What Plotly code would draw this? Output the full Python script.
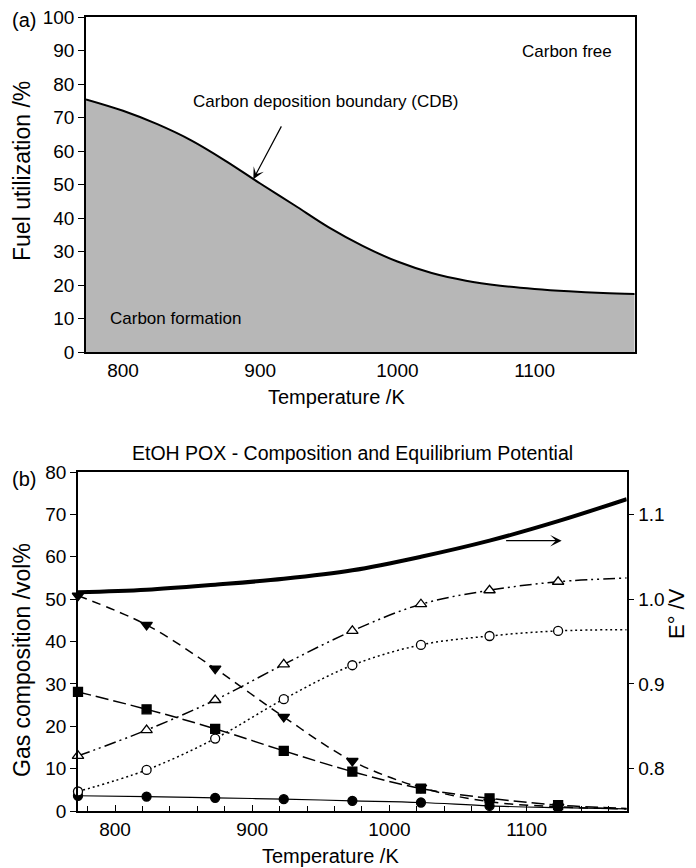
import plotly.graph_objects as go

# ---------- Panel (a) data ----------
cdb_T = [773, 800, 825, 850, 875, 900, 925, 950, 975, 1000, 1025, 1050, 1075, 1100, 1125, 1150, 1173]
cdb_U = [75.4, 72.0, 68.0, 63.1, 57.0, 50.3, 43.8, 37.2, 31.6, 27.0, 23.6, 21.3, 19.8, 18.8, 18.1, 17.6, 17.3]

# ---------- Panel (b) data ----------
T_pts = [773, 823, 873, 923, 973, 1023, 1073, 1123]
sq_filled = [28.1, 24.0, 19.4, 14.2, 9.3, 5.3, 3.0, 1.4]
tri_down = [50.8, 43.9, 33.6, 22.2, 11.8, 5.5, 2.2, 1.0]
tri_open = [13.0, 19.1, 26.2, 34.6, 42.5, 48.8, 52.1, 54.1]
circ_open = [4.6, 9.7, 17.1, 26.4, 34.4, 39.2, 41.3, 42.5]
circ_filled = [3.6, 3.4, 3.1, 2.8, 2.4, 2.0, 1.2, 0.8]

T_end = 1173
end_vals = {"sq": 0.6, "tdown": 0.5, "topen": 55.0, "copen": 42.8, "cfill": 0.5}

E_T = [773, 823, 873, 923, 973, 1023, 1073, 1123, 1173]
E_V = [1.008, 1.011, 1.017, 1.024, 1.034, 1.050, 1.069, 1.092, 1.118]

x_ticks = [800, 900, 1000, 1100]

FONT = "Liberation Sans, Arial, sans-serif"
OFF = 8  # page body margin
W, H = 688, 860

def px_x(p):
    return (p - OFF) / W

def px_y(p):
    return 1 - (p - OFF) / H

fig = go.Figure()

# Panel (a)
fig.add_trace(go.Scatter(
    x=cdb_T, y=cdb_U, mode="lines", line=dict(color="black", width=2, shape="spline"),
    fill="tozeroy", fillcolor="#b7b7b7", xaxis="x", yaxis="y", showlegend=False))

# Panel (b)
def series(vals, end, symbol, dash, filled, size=9, width=1.5):
    fig.add_trace(go.Scatter(
        x=T_pts + [T_end], y=vals + [end], mode="lines", showlegend=False,
        line=dict(color="black", width=width, dash=dash, shape="spline"),
        xaxis="x2", yaxis="y2"))
    fig.add_trace(go.Scatter(
        x=T_pts, y=vals, mode="markers", showlegend=False,
        marker=dict(symbol=symbol, size=size,
                    color="black" if filled else "white",
                    line=dict(color="black", width=1.3)),
        xaxis="x2", yaxis="y2", cliponaxis=False))

series(circ_filled, end_vals["cfill"], "circle", "solid", True, size=9, width=1.2)
series(circ_open, end_vals["copen"], "circle", "2px,3px", False, size=9)
series(tri_open, end_vals["topen"], "triangle-up", "12px,4px,2px,4px,2px,4px", False, size=10)
series(sq_filled, end_vals["sq"], "square", "13px,5px", True, size=9)
series(tri_down, end_vals["tdown"], "triangle-down", "9px,6px", True, size=10)

fig.add_trace(go.Scatter(
    x=E_T, y=E_V, mode="lines", line=dict(color="black", width=4, shape="spline"),
    xaxis="x2", yaxis="y3", showlegend=False))

tickfont = dict(family=FONT, size=19, color="black")

dom_a_x = [px_x(86), px_x(634.7)]
dom_a_y = [px_y(352), px_y(17)]
dom_b_x = [px_x(78), px_x(626.7)]
dom_b_y = [px_y(811), px_y(472)]

common = dict(showgrid=False, zeroline=False, showline=True, linecolor="black",
              linewidth=1.5, tickfont=tickfont, automargin=False, ticklabeloverflow="allow")

fig.update_layout(
    width=W, height=H, margin=dict(l=0, r=0, t=0, b=0),
    paper_bgcolor="white", plot_bgcolor="white",
    font=dict(family=FONT, color="black"),
    xaxis=dict(domain=dom_a_x, anchor="y", range=[773, 1173], tickvals=x_ticks,
               ticks="", mirror=True, **common),
    yaxis=dict(domain=dom_a_y, anchor="x", range=[0, 100], dtick=10,
               ticks="outside", ticklen=6, tickwidth=1.3, tickcolor="black",
               mirror=True, **common),
    xaxis2=dict(domain=dom_b_x, anchor="y2", range=[773, 1173], tickvals=x_ticks,
                ticks="inside", ticklen=6, tickwidth=1.2, tickcolor="black",
                minor=dict(dtick=20, tick0=800, ticks="inside", ticklen=5, tickwidth=1, tickcolor="black"),
                mirror=True, **common),
    yaxis2=dict(domain=dom_b_y, anchor="x2", range=[0, 80], dtick=10,
                ticks="outside", ticklen=6, tickwidth=1.3, tickcolor="black", **common),
    yaxis3=dict(overlaying="y2", side="right", anchor="x2", range=[0.75, 1.15],
                tickvals=[0.8, 0.9, 1.0, 1.1], ticktext=["0.8", "0.9", "1.0", "1.1"],
                ticks="outside", ticklen=6, tickwidth=1.3, tickcolor="black", **common),
    annotations=[
        dict(text="(a)", x=px_x(10), y=px_y(20), xref="paper", yref="paper",
             xanchor="left", yanchor="middle", showarrow=False, font=dict(family=FONT, size=20)),
        dict(text="(b)", x=px_x(10), y=px_y(479), xref="paper", yref="paper",
             xanchor="left", yanchor="middle", showarrow=False, font=dict(family=FONT, size=20)),
        dict(text="EtOH POX - Composition and Equilibrium Potential", x=px_x(352), y=px_y(453),
             xref="paper", yref="paper", xanchor="center", yanchor="middle", showarrow=False,
             font=dict(family=FONT, size=19.5)),
        # axis titles
        dict(text="Temperature /K", x=px_x(336), y=px_y(397), xref="paper", yref="paper",
             xanchor="center", yanchor="middle", showarrow=False, font=dict(family=FONT, size=20)),
        dict(text="Temperature /K", x=px_x(330), y=px_y(856), xref="paper", yref="paper",
             xanchor="center", yanchor="middle", showarrow=False, font=dict(family=FONT, size=20)),
        dict(text="Fuel utilization /%", x=px_x(22), y=px_y(171), xref="paper", yref="paper",
             xanchor="center", yanchor="middle", textangle=-90, showarrow=False,
             font=dict(family=FONT, size=23)),
        dict(text="Gas composition /vol%", x=px_x(22), y=px_y(660), xref="paper", yref="paper",
             xanchor="center", yanchor="middle", textangle=-90, showarrow=False,
             font=dict(family=FONT, size=23)),
        dict(text="E° /V", x=px_x(676), y=px_y(614), xref="paper", yref="paper",
             xanchor="center", yanchor="middle", textangle=-90, showarrow=False,
             font=dict(family=FONT, size=22)),
        # panel (a) labels
        dict(text="Carbon free", x=1124, y=89.7, xref="x", yref="y", xanchor="center",
             yanchor="middle", showarrow=False, font=dict(family=FONT, size=17)),
        dict(text="Carbon deposition boundary (CDB)", x=948, y=74.9, xref="x", yref="y",
             xanchor="center", yanchor="middle", showarrow=False, font=dict(family=FONT, size=17)),
        dict(text="Carbon formation", x=789, y=10, xref="x", yref="y", xanchor="left",
             yanchor="middle", showarrow=False, font=dict(family=FONT, size=17)),
        dict(x=895, y=51.6, ax=916, ay=67.8, xref="x", yref="y", axref="x", ayref="y",
             text="", showarrow=True, arrowhead=3, arrowsize=1.6, arrowwidth=1.2, arrowcolor="black"),
        dict(x=1125.6, y=1.069, ax=1084, ay=1.069, xref="x2", yref="y3", axref="x2", ayref="y3",
             text="", showarrow=True, arrowhead=3, arrowsize=1.6, arrowwidth=1.2, arrowcolor="black"),
    ],
)

fig.write_html("out.html")
